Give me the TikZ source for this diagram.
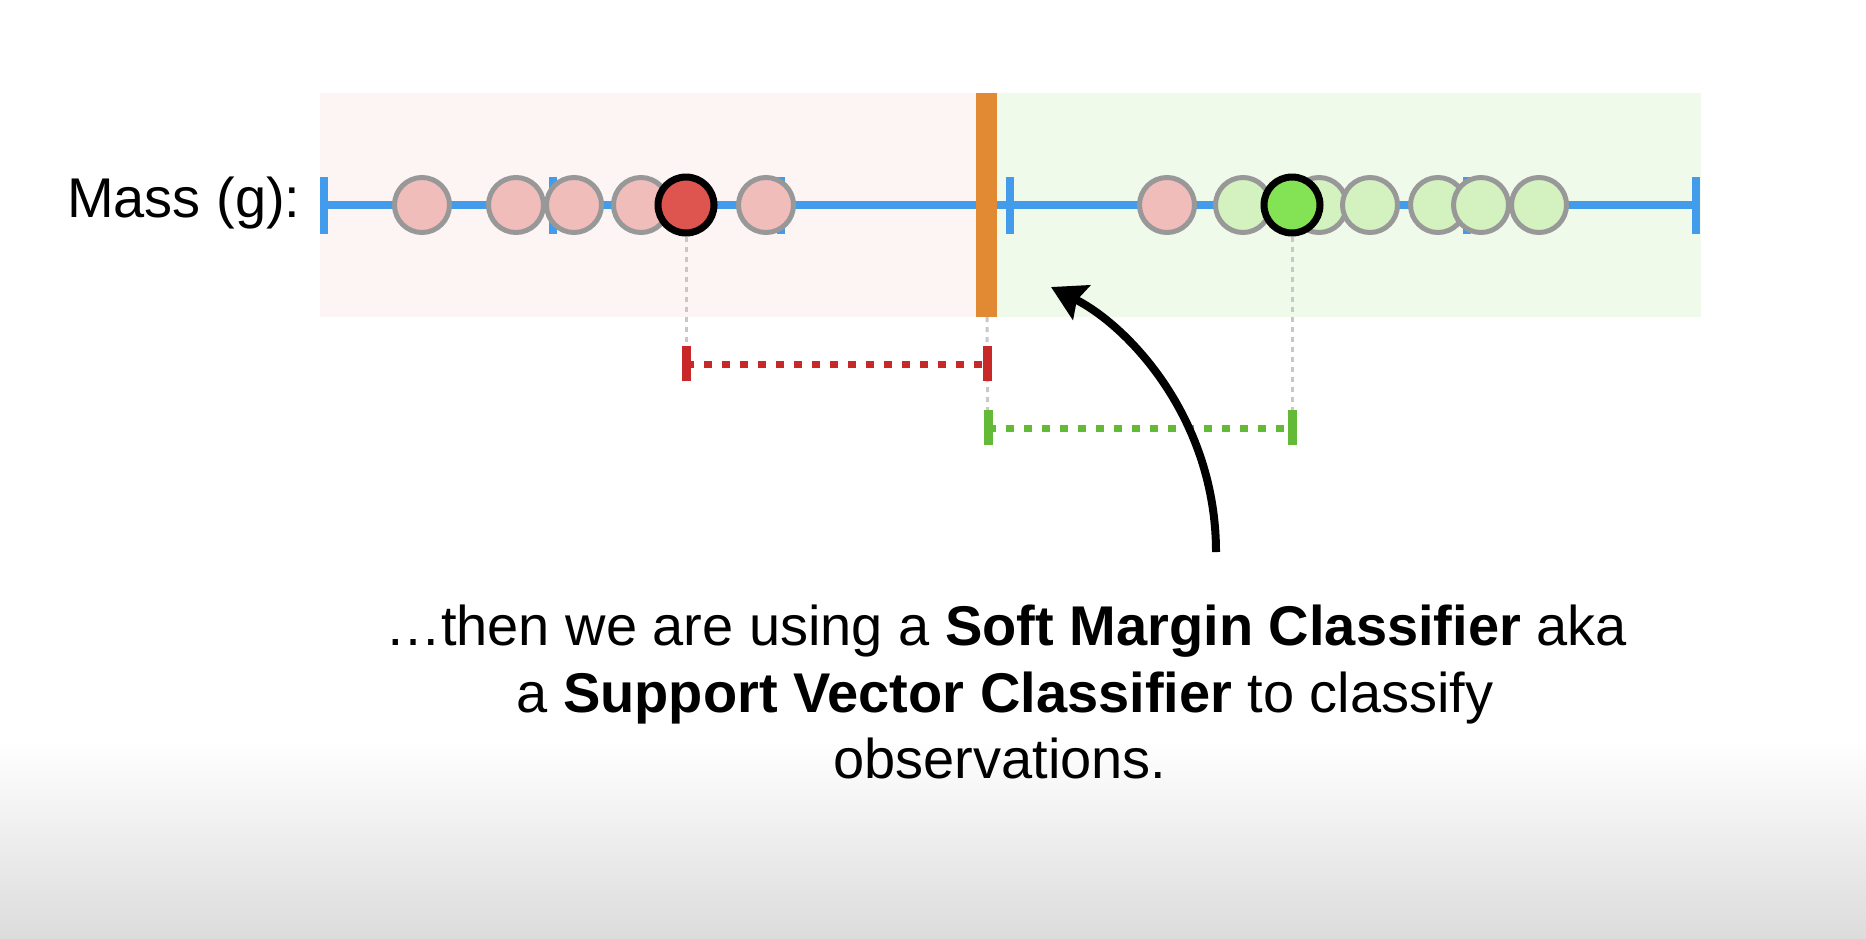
\documentclass[tikz,border=0pt]{standalone}
\usepackage{fontspec}
\setmainfont{Liberation Sans}
\usetikzlibrary{arrows.meta}
\definecolor{axisblue}{RGB}{66,155,235}
\definecolor{bgpink}{RGB}{253,244,244}
\definecolor{bggreen}{RGB}{240,250,234}
\definecolor{ptpink}{RGB}{240,189,187}
\definecolor{ptgreen}{RGB}{211,242,192}
\definecolor{svred}{RGB}{222,84,78}
\definecolor{svgreen}{RGB}{132,227,84}
\definecolor{ptedge}{RGB}{152,152,152}
\definecolor{orangebar}{RGB}{226,137,52}
\definecolor{brred}{RGB}{200,40,40}
\definecolor{brgreen}{RGB}{98,186,54}
\definecolor{guide}{RGB}{200,200,200}
\definecolor{fadegray}{RGB}{220,220,220}
\begin{document}
\begin{tikzpicture}[x=1pt,y=-1pt,
  pt/.style={circle, minimum size=55pt, inner sep=0pt, line width=5pt, draw=ptedge},
  redpt/.style={pt, fill=ptpink},
  greenpt/.style={pt, fill=ptgreen},
  sv/.style={circle, minimum size=56pt, inner sep=0pt, line width=7pt, draw=black},
  axistick/.style={line width=8pt, draw=axisblue},
  axisline/.style={line width=8pt, draw=axisblue},
  guideline/.style={draw=guide, line width=3pt, dash pattern=on 5pt off 5pt},
  bracketline/.style={line width=7pt, dash pattern=on 8pt off 10pt},
  brackettick/.style={line width=9pt},
  bigtext/.style={font=\fontsize{56}{67}\selectfont, inner sep=0pt},
  pointer/.style={line width=8pt, -{Stealth[length=34pt,width=38pt,inset=5pt]}}
]
\useasboundingbox (0,0) rectangle (1866,938);
\fill[white] (0,0) rectangle (1866,938);
\shade[top color=white, bottom color=fadegray] (0,740) rectangle (1866,938);

% backgrounds
\fill[bgpink] (320,93) rectangle (987,317);
\fill[bggreen] (987,93) rectangle (1701,317);

% axis
\coordinate (axL) at (324,205);
\coordinate (axR) at (1696,205);
\draw[axisline] (axL) -- (axR);
\foreach \x in {324,552.7,781.3,1010,1238.7,1467.3,1696}
  \draw[axistick] (\x,177) -- (\x,234);

\node[bigtext, anchor=base west] (mass) at (67,217) {Mass (g):};

% guide coordinates
\coordinate (rL) at (686,364);
\coordinate (rR) at (987,364);
\coordinate (gL) at (988,428);
\coordinate (gR) at (1292,428);
\coordinate (barB) at (987,317);

% red side points
\node[redpt] (r1) at (422,205) {};
\node[redpt] (r2) at (516,205) {};
\node[redpt] (r3) at (574,205) {};
\node[redpt] (r4) at (641,205) {};
\node[sv, fill=svred] (rsv) at (686,205) {};
\node[redpt] (r5) at (766,205) {};

% green side points
\node[redpt] (g0) at (1167,205) {};
\node[greenpt] (g1) at (1243,205) {};
\node[greenpt] (g2) at (1319,205) {};
\node[greenpt] (g3) at (1370,205) {};
\node[greenpt] (g4) at (1438,205) {};
\node[greenpt] (g5) at (1481,205) {};
\node[greenpt] (g6) at (1539,205) {};
\node[sv, fill=svgreen] (gsv) at (1292,205) {};

% orange separator
\fill[orangebar] (976,93) rectangle (997,317);

\draw[guideline] (rsv.south) -- ([yshift=-17pt]rL);
\draw[guideline] (barB) -- ([yshift=-17pt]gL);
\draw[guideline] (gsv.south) -- ([yshift=-17pt]gR);

% brackets
\draw[bracketline, draw=brred] (rL) -- (rR);
\draw[brackettick, draw=brred] ([yshift=-17pt]rL) -- ([yshift=18pt]rL);
\draw[brackettick, draw=brred] ([yshift=-17pt]rR) -- ([yshift=18pt]rR);
\draw[bracketline, draw=brgreen] (gL) -- (gR);
\draw[brackettick, draw=brgreen] ([yshift=-17pt]gL) -- ([yshift=18pt]gL);
\draw[brackettick, draw=brgreen] ([yshift=-17pt]gR) -- ([yshift=18pt]gR);

% caption
\node[bigtext, anchor=base] (cap1) at (1006,645) {…then we are using a \textbf{Soft Margin Classifier} aka};
\node[bigtext, anchor=base] (cap2) at (1005,712) {a \textbf{Support Vector Classifier} to classify};
\node[bigtext, anchor=base] (cap3) at (1000,778) {observations.};

% arrow
\coordinate (arS) at (1216,552);
\coordinate (arE) at (1051,287);
\draw[pointer] (arS) .. controls (1216,420) and (1130,327) .. (arE);
\end{tikzpicture}
\end{document}
